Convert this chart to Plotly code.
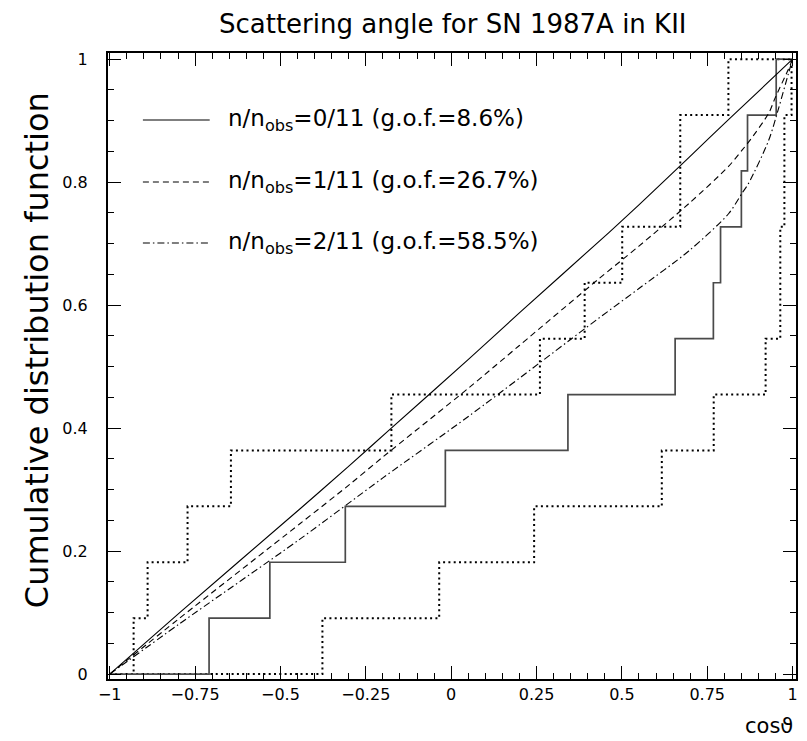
import plotly.graph_objects as go

# ---- data ----
N_OBS = 11
# cos(theta) of the 11 KII events (solid step = data CDF)
data_events = [-0.709, -0.531, -0.310, -0.017, 0.342, 0.656, 0.768, 0.789, 0.850, 0.868, 0.952]
# dotted bands (upper / lower)
upper_events = [-0.930, -0.889, -0.772, -0.645, -0.175, 0.260, 0.391, 0.501, 0.671, 0.671, 0.812]
lower_events = [-0.377, -0.035, 0.243, 0.617, 0.769, 0.921, 0.964, 0.964, 0.976, 0.976, 0.997]

# expected CDFs
c0_x = [-1.0, -0.795, -0.444, -0.298, -0.181, 0.053, 0.199, 0.462, 0.55, 0.696, 0.813, 1.0]
c0_y = [0.0, 0.100, 0.268, 0.339, 0.397, 0.513, 0.587, 0.718, 0.763, 0.840, 0.902, 1.0]
c1_x = [-1.0, -0.795, -0.444, -0.298, -0.2, 0.053, 0.199, 0.433, 0.55, 0.696, 0.813, 0.852, 0.871, 0.93, 0.949, 0.988, 1.0]
c1_y = [0.0, 0.091, 0.244, 0.308, 0.353, 0.466, 0.534, 0.643, 0.696, 0.765, 0.826, 0.852, 0.865, 0.912, 0.937, 0.984, 1.0]
c2_x = [-1.0, -0.795, -0.444, -0.2, 0.053, 0.433, 0.55, 0.696, 0.813, 0.852, 0.871, 0.93, 0.959, 0.988, 1.0]
c2_y = [0.0, 0.082, 0.219, 0.319, 0.420, 0.579, 0.627, 0.688, 0.749, 0.782, 0.798, 0.868, 0.92, 0.977, 1.0]

legend_labels = [
    "n/n<sub>obs</sub>=0/11 (g.o.f.=8.6%)",
    "n/n<sub>obs</sub>=1/11 (g.o.f.=26.7%)",
    "n/n<sub>obs</sub>=2/11 (g.o.f.=58.5%)",
]
x_ticks = [-1, -0.75, -0.5, -0.25, 0, 0.25, 0.5, 0.75, 1]
x_ticktext = ["\u22121", "\u22120.75", "\u22120.5", "\u22120.25", "0", "0.25", "0.5", "0.75", "1"]
y_ticks = [0, 0.2, 0.4, 0.6, 0.8, 1]
y_ticktext = ["0", "0.2", "0.4", "0.6", "0.8", "1"]

FONT = "DejaVu Sans"
DOT = "2px,3.3px"
DASH = "6px,4px"
DASHDOT = "7px,3px,1.5px,3px"


def cdf_xy(events):
    xs = [-1.0] + list(events) + [1.0]
    ys = [0.0] + [(i + 1) / N_OBS for i in range(len(events))] + [1.0]
    return xs, ys


fig = go.Figure()
for ev in (upper_events, lower_events):
    xs, ys = cdf_xy(ev)
    fig.add_trace(go.Scatter(x=xs, y=ys, mode="lines", showlegend=False,
                             line=dict(shape="hv", color="black", width=2, dash=DOT)))
xs, ys = cdf_xy(data_events)
fig.add_trace(go.Scatter(x=xs, y=ys, mode="lines", showlegend=False,
                         line=dict(shape="hv", color="#4a4a4a", width=1.7)))
for cx, cy, dash in ((c0_x, c0_y, "solid"), (c1_x, c1_y, DASH), (c2_x, c2_y, DASHDOT)):
    fig.add_trace(go.Scatter(x=cx, y=cy, mode="lines", showlegend=False,
                             line=dict(shape="spline", smoothing=0.8, color="black", width=1.1, dash=dash)))

# page offset of the figure div (browser body margin)
OFF = 8
FIG_W, FIG_H = 807 - OFF, 741 - OFF
# plot-area edges in page pixels
L, R, T, B = 108, 798, 53, 679
W, H = R - L, B - T


def px(x):
    return (x - L) / W


def py(y):
    return (B - y) / H


shapes = []
annotations = []
for yy, lab, dash in zip((120, 182, 243), legend_labels, ("solid", DASH, DASHDOT)):
    shapes.append(dict(type="line", xref="paper", yref="paper", x0=px(143), x1=px(210),
                       y0=py(yy), y1=py(yy), line=dict(color="black", width=1.1, dash=dash)))
    annotations.append(dict(xref="paper", yref="paper", x=px(226), y=py(yy), xanchor="left",
                            yanchor="middle", text=lab, showarrow=False,
                            font=dict(family=FONT, size=23, color="black")))

annotations.append(dict(xref="paper", yref="paper", x=px(37), y=py(350), text="Cumulative distribution function",
                        textangle=-90, showarrow=False, xanchor="center", yanchor="middle",
                        font=dict(family=FONT, size=32, color="black")))
annotations.append(dict(xref="paper", yref="paper", x=px(797), y=py(726), text="cos\u03d1",
                        showarrow=False, xanchor="right", yanchor="middle",
                        font=dict(family=FONT, size=21, color="black")))
# title as an annotation so that its top stays inside the figure
annotations.append(dict(xref="paper", yref="paper", x=px(453), y=py(24), text="Scattering angle for SN 1987A in KII",
                        showarrow=False, xanchor="center", yanchor="middle",
                        font=dict(family=FONT, size=26, color="black")))

axis_common = dict(showline=True, linecolor="black", linewidth=2, mirror="ticks",
                   ticks="inside", tickcolor="black", tickwidth=1, ticklen=13,
                   showgrid=False, zeroline=False,
                   tickfont=dict(family=FONT, size=16, color="black"))

fig.update_layout(
    width=FIG_W, height=FIG_H,
    margin=dict(l=L - OFF, r=807 - R, t=T - OFF, b=FIG_H - (B - OFF)),
    paper_bgcolor="white", plot_bgcolor="white",
    xaxis=dict(range=[-1.005, 1.01], tickvals=x_ticks, ticktext=x_ticktext,
               minor=dict(dtick=0.05, ticks="inside", ticklen=6, tickcolor="black", tickwidth=1),
               **axis_common),
    yaxis=dict(range=[-0.008, 1.01], tickvals=y_ticks, ticktext=y_ticktext,
               minor=dict(dtick=0.05, ticks="inside", ticklen=6, tickcolor="black", tickwidth=1),
               ticklabelstandoff=15, **axis_common),
    shapes=shapes, annotations=annotations, showlegend=False,
)

fig.write_html("out.html")
